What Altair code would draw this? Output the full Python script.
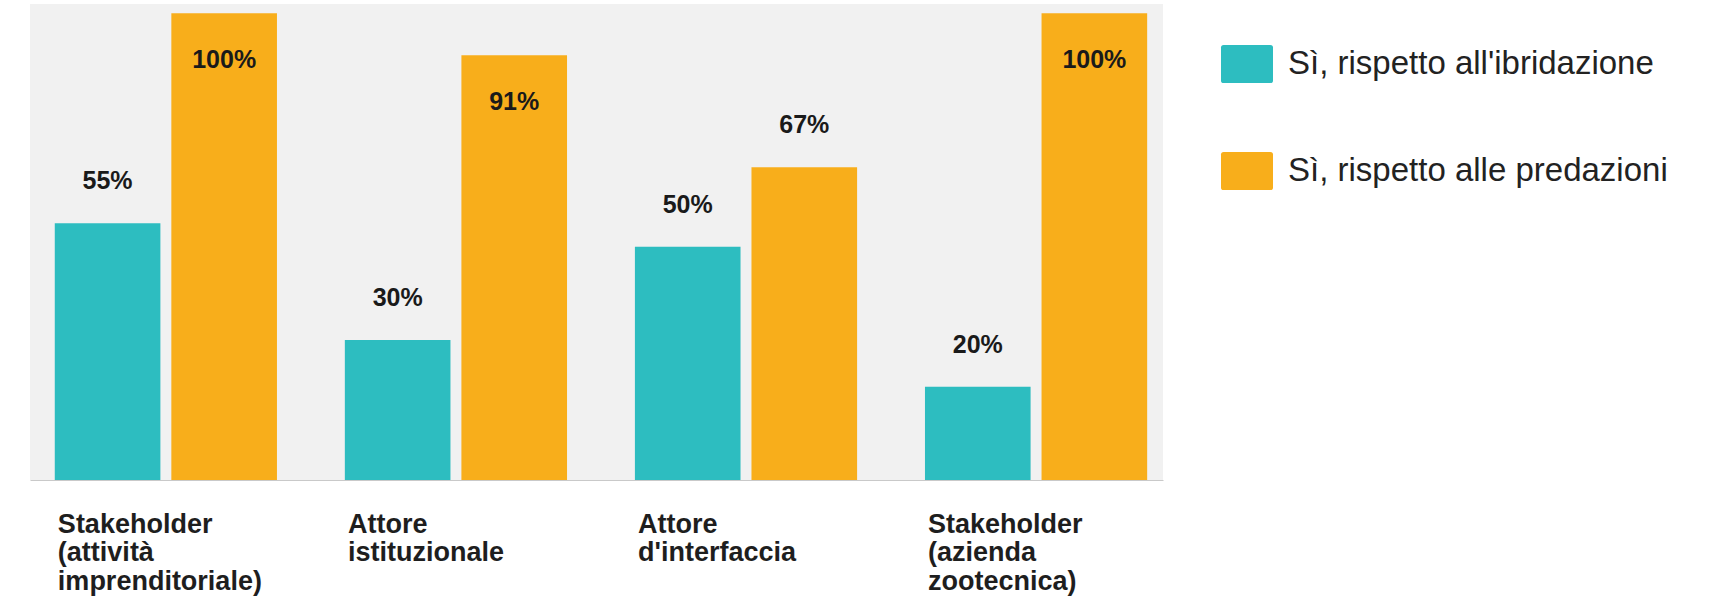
import altair as alt
import pandas as pd

categories = [
    "Stakeholder\n(attività\nimprenditoriale)",
    "Attore\nistituzionale",
    "Attore\nd'interfaccia",
    "Stakeholder\n(azienda\nzootecnica)",
]
series = ["Sì, rispetto all'ibridazione", "Sì, rispetto alle predazioni"]
ibridazione = [55, 30, 50, 20]
predazioni = [100, 91, 67, 100]
colors = ["#2dbdc0", "#f8ae1b"]

rows = []
for cat, a, b in zip(categories, ibridazione, predazioni):
    rows.append({"cat": cat, "serie": series[0], "val": a})
    rows.append({"cat": cat, "serie": series[1], "val": b})
df = pd.DataFrame(rows)
df["lab"] = df["val"].astype(str) + "%"

FONT = "Liberation Sans"

x = alt.X(
    "cat:N",
    sort=categories,
    scale=alt.Scale(paddingInner=0.234, paddingOuter=0.07, align=0.61),
    axis=alt.Axis(
        title=None,
        labelAlign="left",
        labelBaseline="top",
        labelAngle=0,
        labelFont=FONT,
        labelFontWeight="bold",
        labelFontSize=27,
        labelLineHeight=28.5,
        labelColor="#1e1e1e",
        labelPadding=31,
        labelOffset=-108,
        labelExpr="split(datum.label, '\\n')",
        ticks=False,
        domainColor="#c9c9c9",
        domainWidth=1,
        grid=False,
        labelLimit=400,
    ),
)
xoff = alt.XOffset("serie:N", sort=series, scale=alt.Scale(paddingInner=0.094, paddingOuter=0))
y = alt.Y("val:Q", scale=alt.Scale(domain=[0, 102], nice=False, zero=True), axis=None)

legend_symbol = (
    "M-0.9,-0.73 H0.9 Q1,-0.73 1,-0.63 V0.63 Q1,0.73 0.9,0.73 "
    "H-0.9 Q-1,0.73 -1,0.63 V-0.63 Q-1,-0.73 -0.9,-0.73 Z"
)

bars = alt.Chart(df).mark_bar().encode(
    x=x,
    xOffset=xoff,
    y=y,
    color=alt.Color(
        "serie:N",
        sort=series,
        scale=alt.Scale(domain=series, range=colors),
        legend=alt.Legend(
            title=None,
            orient="none",
            legendX=1191,
            legendY=34,
            symbolType=legend_symbol,
            symbolSize=2704,
            symbolStrokeWidth=0,
            symbolOpacity=1,
            labelFont=FONT,
            labelFontSize=33,
            labelColor="#222222",
            labelOffset=15,
            rowPadding=62,
            padding=0,
            labelLimit=600,
        ),
    ),
)

text_style = dict(font=FONT, fontWeight="bold", fontSize=25, color="#1a1a1a", baseline="middle", align="center")

labels_above = alt.Chart(df).transform_filter("datum.val < 90").mark_text(dy=-42, **text_style).encode(
    x=x, xOffset=xoff, y=y, text="lab:N"
)
labels_inside = alt.Chart(df).transform_filter("datum.val >= 90").mark_text(dy=47, **text_style).encode(
    x=x, xOffset=xoff, y=y, text="lab:N"
)

chart = (
    alt.layer(bars, labels_above, labels_inside)
    .properties(
        width=1133,
        height=476,
        background="white",
        padding={"left": 30, "top": 4, "right": 5, "bottom": 5},
    )
    .configure_view(fill="#f1f1f1", stroke=None, strokeWidth=0)
)

chart.save("out.html", embed_options={"renderer": "svg", "actions": False})
